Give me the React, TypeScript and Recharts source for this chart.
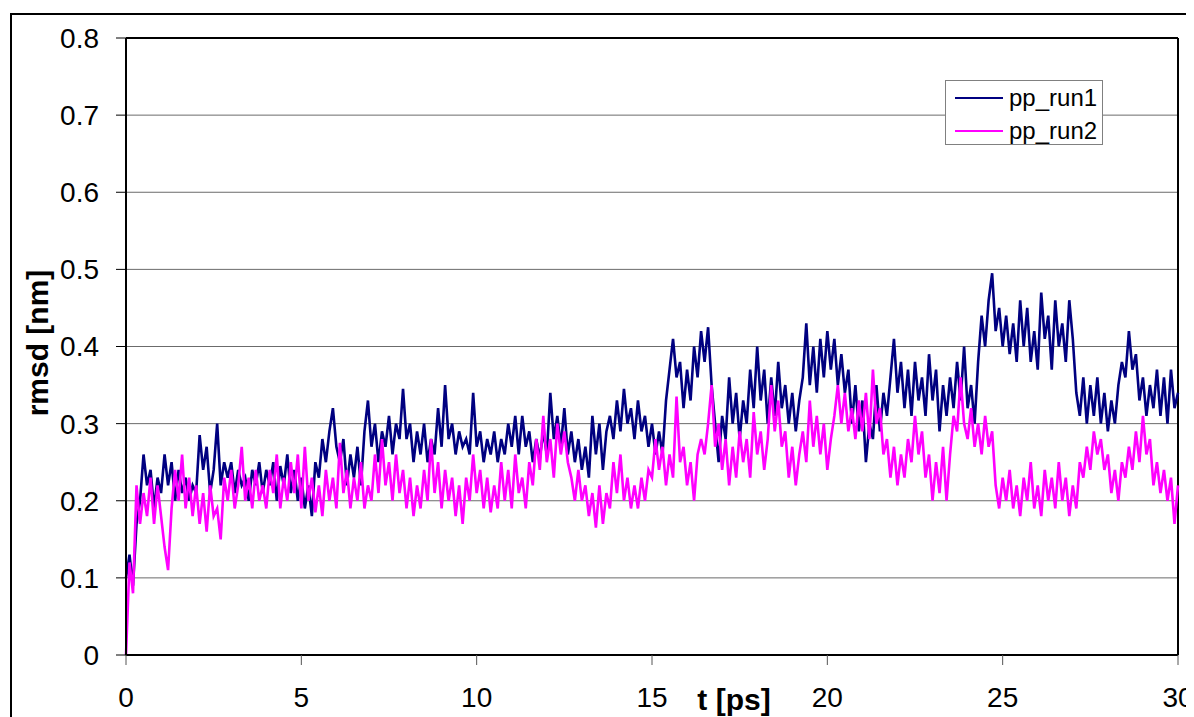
import React from "react";
import {
  LineChart,
  Line,
  XAxis,
  YAxis,
  CartesianGrid,
  ReferenceLine,
  Legend,
} from "recharts";

const run1 = [
  0.10, 0.13, 0.09, 0.17, 0.20, 0.26, 0.22, 0.24, 0.19, 0.23,
  0.21, 0.26, 0.22, 0.25, 0.20, 0.24, 0.21, 0.23, 0.20, 0.22,
  0.21, 0.285, 0.24, 0.27, 0.21, 0.24, 0.30, 0.22, 0.25, 0.23,
  0.25, 0.21, 0.24, 0.22, 0.23, 0.20, 0.24, 0.22, 0.25, 0.21,
  0.24, 0.22, 0.25, 0.20, 0.245, 0.22, 0.26, 0.21, 0.24, 0.20,
  0.23, 0.19, 0.22, 0.18, 0.25, 0.23, 0.28, 0.25, 0.29, 0.32,
  0.27, 0.25, 0.28, 0.22, 0.26, 0.23, 0.27, 0.22, 0.29, 0.33,
  0.27, 0.30, 0.25, 0.29, 0.27, 0.31, 0.26, 0.30, 0.28, 0.345,
  0.28, 0.30, 0.25, 0.29, 0.26, 0.30, 0.25, 0.28, 0.26, 0.32,
  0.27, 0.35, 0.28, 0.30, 0.26, 0.29, 0.27, 0.28, 0.26, 0.34,
  0.27, 0.29, 0.25, 0.28, 0.26, 0.29, 0.25, 0.28, 0.26, 0.30,
  0.27, 0.31, 0.26, 0.31, 0.27, 0.29, 0.25, 0.28, 0.255, 0.29,
  0.26, 0.34, 0.28, 0.31, 0.27, 0.32, 0.26, 0.29, 0.25, 0.28,
  0.24, 0.27, 0.23, 0.31, 0.26, 0.30, 0.24, 0.29, 0.31, 0.28,
  0.33, 0.29, 0.345, 0.30, 0.32, 0.28, 0.33, 0.29, 0.31, 0.27,
  0.30, 0.26, 0.29, 0.26, 0.33, 0.37, 0.41, 0.36, 0.38, 0.32,
  0.37, 0.33, 0.40, 0.36, 0.42, 0.38, 0.425, 0.35, 0.30, 0.25,
  0.31, 0.28, 0.36, 0.30, 0.34, 0.28, 0.33, 0.30, 0.37, 0.32,
  0.40, 0.33, 0.37, 0.30, 0.36, 0.31, 0.38, 0.32, 0.35, 0.30,
  0.34, 0.29, 0.33, 0.36, 0.43, 0.35, 0.40, 0.34, 0.41, 0.36,
  0.42, 0.37, 0.41, 0.35, 0.39, 0.34, 0.37, 0.30, 0.35, 0.29,
  0.33, 0.25, 0.30, 0.28, 0.35, 0.29, 0.34, 0.31, 0.36, 0.41,
  0.34, 0.38, 0.32, 0.37, 0.31, 0.38, 0.33, 0.36, 0.31, 0.39,
  0.33, 0.37, 0.29, 0.35, 0.31, 0.36, 0.32, 0.38, 0.33, 0.40,
  0.32, 0.35, 0.30, 0.38, 0.44, 0.40, 0.46, 0.495, 0.42, 0.45,
  0.40, 0.44, 0.39, 0.43, 0.38, 0.46, 0.40, 0.45, 0.38, 0.42,
  0.37, 0.47, 0.41, 0.44, 0.37, 0.46, 0.40, 0.43, 0.38, 0.46,
  0.41, 0.34, 0.31, 0.36, 0.30, 0.35, 0.31, 0.36, 0.30, 0.34,
  0.29, 0.33, 0.30, 0.35, 0.38, 0.36, 0.42, 0.37, 0.39, 0.33,
  0.36, 0.31, 0.35, 0.32, 0.37, 0.31, 0.36, 0.30, 0.37, 0.32,
  0.34,
];

const run2 = [
  0.00, 0.12, 0.08, 0.22, 0.17, 0.21, 0.18, 0.23, 0.17, 0.22,
  0.18, 0.14, 0.11, 0.19, 0.24, 0.20, 0.26, 0.19, 0.23, 0.18,
  0.22, 0.17, 0.21, 0.16, 0.22, 0.18, 0.19, 0.15, 0.23, 0.20,
  0.24, 0.19, 0.22, 0.27, 0.20, 0.23, 0.19, 0.24, 0.20, 0.22,
  0.19, 0.24, 0.21, 0.26, 0.19, 0.23, 0.20, 0.25, 0.21, 0.26,
  0.19, 0.27, 0.20, 0.23, 0.185, 0.22, 0.18, 0.24, 0.20, 0.23,
  0.19, 0.275, 0.21, 0.24, 0.19, 0.23, 0.20, 0.25, 0.19, 0.22,
  0.20, 0.26, 0.21, 0.28, 0.22, 0.25, 0.20, 0.26, 0.21, 0.24,
  0.19, 0.23, 0.18, 0.22, 0.19, 0.24, 0.20, 0.28, 0.21, 0.25,
  0.19, 0.24, 0.20, 0.23, 0.18, 0.22, 0.17, 0.23, 0.20, 0.26,
  0.21, 0.24, 0.19, 0.23, 0.185, 0.22, 0.19, 0.25, 0.20, 0.24,
  0.19, 0.26, 0.21, 0.23, 0.19, 0.25, 0.22, 0.28, 0.24, 0.31,
  0.25, 0.28, 0.23, 0.30, 0.26, 0.29, 0.25, 0.23, 0.20, 0.24,
  0.20, 0.22, 0.18, 0.21, 0.165, 0.22, 0.17, 0.21, 0.19, 0.25,
  0.21, 0.26, 0.20, 0.23, 0.19, 0.22, 0.19, 0.23, 0.20, 0.24,
  0.23, 0.28, 0.24, 0.27, 0.22, 0.26, 0.23, 0.335, 0.25, 0.27,
  0.22, 0.25, 0.20, 0.26, 0.28, 0.26, 0.30, 0.35, 0.27, 0.30,
  0.24, 0.28, 0.22, 0.27, 0.23, 0.29, 0.25, 0.28, 0.23, 0.315,
  0.26, 0.29, 0.24, 0.28, 0.35, 0.29, 0.33, 0.27, 0.29, 0.23,
  0.27, 0.22, 0.26, 0.29, 0.25, 0.33, 0.27, 0.31, 0.26, 0.30,
  0.24, 0.28, 0.31, 0.35, 0.30, 0.34, 0.29, 0.32, 0.28, 0.33,
  0.29, 0.34, 0.28, 0.37, 0.30, 0.32, 0.26, 0.28, 0.23, 0.27,
  0.22, 0.26, 0.23, 0.28, 0.25, 0.31, 0.26, 0.29, 0.23, 0.26,
  0.20, 0.25, 0.21, 0.27, 0.20, 0.26, 0.31, 0.29, 0.36, 0.30,
  0.28, 0.32, 0.27, 0.30, 0.26, 0.31, 0.27, 0.29, 0.22, 0.19,
  0.23, 0.20, 0.24, 0.19, 0.22, 0.18, 0.23, 0.20, 0.25, 0.19,
  0.22, 0.18, 0.24, 0.20, 0.23, 0.19, 0.25, 0.20, 0.23, 0.18,
  0.22, 0.19, 0.25, 0.23, 0.27, 0.24, 0.29, 0.26, 0.28, 0.24,
  0.26, 0.21, 0.24, 0.20, 0.25, 0.23, 0.27, 0.24, 0.29, 0.25,
  0.31, 0.26, 0.28, 0.22, 0.25, 0.21, 0.24, 0.20, 0.23, 0.17,
  0.22,
];

const timeStep = 0.1; // ps between samples
const xTicks = [0, 5, 10, 15, 20, 25, 30];
const yTicks = [0, 0.1, 0.2, 0.3, 0.4, 0.5, 0.6, 0.7, 0.8];
const seriesNames = ["pp_run1", "pp_run2"];
const seriesColors = ["#000080", "#FF00FF"];

const chartData = run1.map((v, i) => ({
  t: Math.round(i * timeStep * 10) / 10,
  run1: v,
  run2: run2[i],
}));

const FONT = "'Liberation Sans', Arial, sans-serif";

const YTitle = () => (
  <text
    x={40}
    y={335}
    transform="rotate(-90 40 335)"
    textAnchor="middle"
    fontSize={30}
    fontWeight="bold"
    fontFamily={FONT}
    fill="#000"
  >
    rmsd [nm]
  </text>
);

const XTitle = () => (
  <text
    x={726}
    y={702}
    textAnchor="middle"
    fontSize={30}
    fontWeight="bold"
    fontFamily={FONT}
    fill="#000"
  >
    t [ps]
  </text>
);

const LegendBox = () => (
  <div
    style={{
      width: 158,
      height: 65,
      boxSizing: "border-box",
      border: "1px solid #808080",
      background: "#fff",
      fontFamily: FONT,
      fontSize: 24,
      color: "#000",
      position: "relative",
    }}
  >
    {seriesNames.map((name, i) => (
      <div
        key={name}
        style={{
          position: "absolute",
          left: 9,
          top: i === 0 ? 3 : 36,
          height: 28,
          display: "flex",
          alignItems: "center",
        }}
      >
        <svg width={48} height={4} style={{ display: "block" }}>
          <line x1={0} y1={2} x2={48} y2={2} stroke={seriesColors[i]} strokeWidth={2} />
        </svg>
        <span style={{ marginLeft: 6, lineHeight: "28px" }}>{name}</span>
      </div>
    ))}
  </div>
);

export default function App() {
  return (
    <div
      style={{
        position: "relative",
        width: 1186,
        height: 709,
        overflow: "hidden",
        background: "#fff",
        fontFamily: FONT,
      }}
    >
      {/* outer chart frame, cut off at the right and bottom */}
      <div
        style={{
          position: "absolute",
          left: 2,
          top: 5,
          width: 1300,
          height: 800,
          border: "2px solid #000",
        }}
      />
      <div style={{ position: "absolute", left: 0, top: 0 }}>
        <LineChart
          width={1186}
          height={709}
          data={chartData}
          margin={{ top: 30, right: 16, bottom: 0, left: 0 }}
        >
          <CartesianGrid
            horizontal
            vertical={false}
            stroke="#6b6b6b"
            strokeWidth={1}
          />
          <XAxis
            dataKey="t"
            type="number"
            domain={[0, 30]}
            ticks={xTicks}
            interval={0}
            height={62}
            tickSize={10}
            tickMargin={22}
            axisLine={{ stroke: "#000", strokeWidth: 2 }}
            tickLine={{ stroke: "#555" }}
            tick={{ fontSize: 28, fill: "#000", fontFamily: FONT }}
            label={<XTitle />}
          />
          <YAxis
            type="number"
            domain={[0, 0.8]}
            ticks={yTicks}
            interval={0}
            width={118}
            tickSize={10}
            tickMargin={17}
            axisLine={{ stroke: "#000", strokeWidth: 2 }}
            tickLine={{ stroke: "#000" }}
            tick={{ fontSize: 28, fill: "#000", fontFamily: FONT }}
            tickFormatter={(v: number) => (v === 0 ? "0" : v.toFixed(1))}
            label={<YTitle />}
          />
          <ReferenceLine y={0.8} stroke="#000" strokeWidth={2} />
          <ReferenceLine x={30} stroke="#000" strokeWidth={2} />
          <Legend
            layout="horizontal"
            verticalAlign="middle"
            align="center"
            content={<LegendBox />}
            wrapperStyle={{ left: 937, top: 72, width: 158, height: 65 }}
          />
          <Line
            type="linear"
            dataKey="run1"
            name={seriesNames[0]}
            stroke={seriesColors[0]}
            strokeWidth={2.6}
            strokeLinejoin="miter"
            dot={false}
            isAnimationActive={false}
          />
          <Line
            type="linear"
            dataKey="run2"
            name={seriesNames[1]}
            stroke={seriesColors[1]}
            strokeWidth={2.6}
            strokeLinejoin="miter"
            dot={false}
            isAnimationActive={false}
          />
        </LineChart>
      </div>
    </div>
  );
}
